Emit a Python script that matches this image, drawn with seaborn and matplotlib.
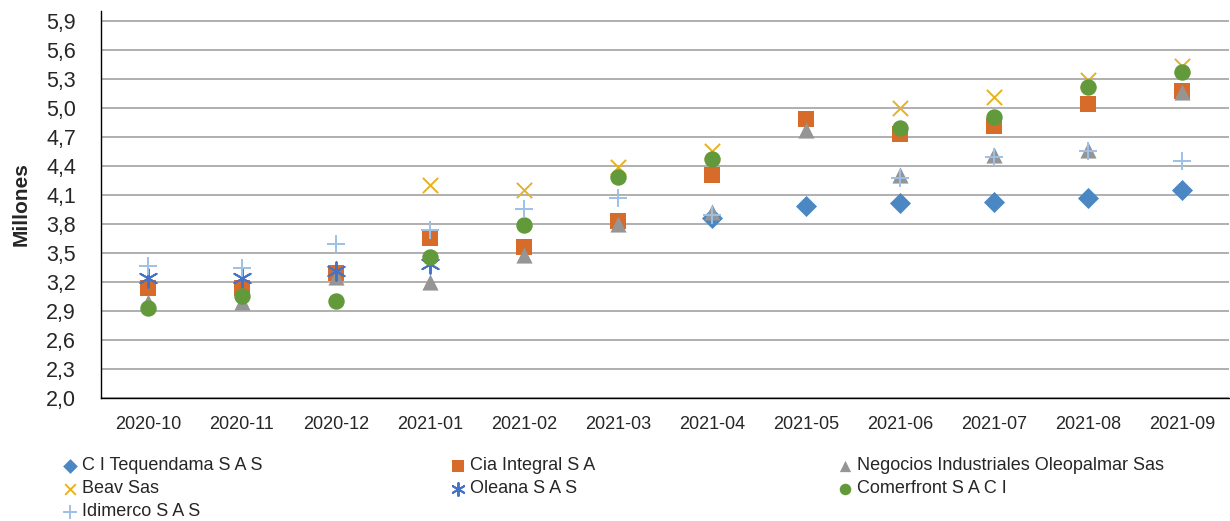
import numpy as np
import matplotlib
matplotlib.use("Agg")
import matplotlib.pyplot as plt
import seaborn as sns

nan = np.nan

# Datos (millones)
meses = ["2020-10", "2020-11", "2020-12", "2021-01", "2021-02", "2021-03",
         "2021-04", "2021-05", "2021-06", "2021-07", "2021-08", "2021-09"]

tequendama = [nan, nan, nan, nan, nan, nan, 3.86, 3.98, 4.02, 4.03, 4.07, 4.15]
cia_integral = [3.14, 3.14, 3.29, 3.65, 3.56, 3.83, 4.30, 4.88, 4.73, 4.81, 5.04, 5.17]
negocios = [2.99, 2.99, 3.25, 3.20, 3.48, 3.80, 3.92, 4.77, 4.31, 4.51, 4.56, 5.16]
beav = [nan, nan, nan, 4.20, 4.15, 4.39, 4.55, nan, 5.00, 5.11, 5.29, 5.43]
oleana = [3.24, 3.24, 3.31, 3.39, nan, nan, nan, nan, nan, nan, nan, nan]
comerfront = [2.93, 3.05, 3.00, 3.46, 3.79, 4.28, 4.47, nan, 4.79, 4.90, 5.21, 5.37]
idimerco = [3.36, 3.34, 3.59, 3.74, 3.95, 4.07, 3.89, nan, 4.27, 4.49, 4.55, 4.45]

series = [
    ("C I Tequendama S A S", tequendama, "D", "#4B87C2", 115),
    ("Cia Integral S A", cia_integral, "s", "#D76B29", 130),
    ("Negocios Industriales Oleopalmar Sas", negocios, "^", "#959595", 135),
    ("Beav Sas", beav, "x", "#E9B020", 120),
    ("Oleana S A S", oleana, (6, 2, 0), "#4472C4", 180),
    ("Comerfront S A C I", comerfront, "o", "#629A3B", 140),
    ("Idimerco S A S", idimerco, "+", "#9DC0E6", 180),
]

sns.set_style("white")
plt.rcParams["font.family"] = ["Liberation Sans", "DejaVu Sans"]

fig = plt.figure(figsize=(12.3, 5.21), dpi=100)
ax = fig.add_axes([0.0821, 0.2361, 0.9171, 0.7428])

pos = np.arange(len(meses))
for nombre, valores, marcador, color, tam in series:
    relleno = marcador in ("D", "s", "^", "o")
    sns.scatterplot(x=pos, y=valores, marker=marcador, color=color,
                    edgecolor=color, s=tam, linewidth=0 if relleno else 1.4,
                    label=nombre, legend=False, ax=ax, zorder=3)

# Ejes
ax.set_xlim(-0.5, len(meses) - 0.5)
ax.set_ylim(2.0, 6.0)
yt = np.round(np.arange(2.0, 5.95, 0.3), 1)
ax.set_yticks(yt)
ax.set_yticklabels([f"{v:.1f}".replace(".", ",") for v in yt], fontsize=15.5)
ax.set_xticks(pos)
ax.set_xticklabels(meses, fontsize=13)
ax.set_xticks(np.arange(-0.5, len(meses)), minor=True)
ax.tick_params(axis="x", which="major", length=0, pad=13)
ax.tick_params(axis="x", which="minor", length=7, width=1, color="black", direction="out")
ax.tick_params(axis="y", length=0, pad=18)
ax.grid(axis="y", color="#A9A9A9", linewidth=1.3)
ax.set_axisbelow(True)
for lado in ("top", "right"):
    ax.spines[lado].set_visible(False)
for lado in ("left", "bottom"):
    ax.spines[lado].set_color("black")
    ax.spines[lado].set_linewidth(1)
ax.set_ylabel("Millones", fontsize=15, fontweight="bold")
ax.yaxis.set_label_coords(-0.062, 0.5)

# Leyenda en tres columnas
handles, labels = ax.get_legend_handles_labels()
columnas = [(0, 3, 6), (1, 4), (2, 5)]
xs = [61 / 1230, 449 / 1230, 836 / 1230]
for cols, x0 in zip(columnas, xs):
    fig.legend([handles[i] for i in cols], [labels[i] for i in cols],
               loc="upper left", bbox_to_anchor=(x0, 0.122), frameon=False,
               fontsize=13, handlelength=1, handletextpad=0.15,
               borderpad=0, borderaxespad=0, labelspacing=0.33,
               markerscale=0.7)

fig.savefig("out.png", dpi=100)
